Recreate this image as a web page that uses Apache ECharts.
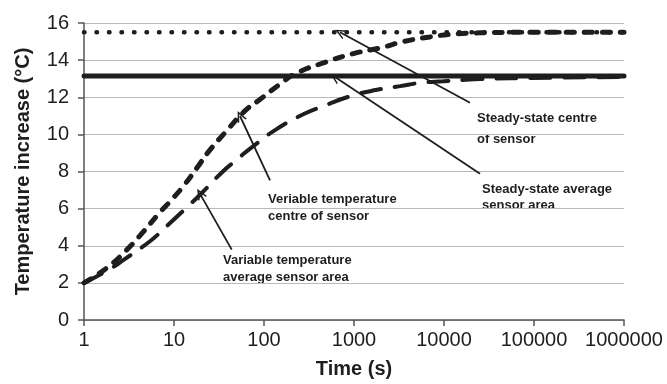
<!DOCTYPE html>
<html lang="en">
    <head>
        <meta charset="UTF-8" />
        <title>Temperature increase</title>
        <script src="https://cdn.jsdelivr.net/npm/echarts@6.0.0/dist/echarts.min.js"></script>
        <style>
            html, body { margin: 0; padding: 0; background: #fff; }
            #chart { width: 667px; height: 384px; }
        </style>
    </head>
    <body>
        <div id="chart"></div>
        <script>
            // time axis ticks (s), log scale
            const timeTicks = [1, 10, 100, 1000, 10000, 100000, 1000000];

            // steady-state levels (C)
            const steadyCentre = 15.5;
            const steadyAverage = 13.15;

            // variable temperature, centre of sensor
            const centreTime = [1, 1.8, 3.0, 4.6, 6.8, 9.5, 12.9, 18.2, 24.5, 37, 61, 90, 150, 220, 456, 984, 2120, 3530, 7000, 12600, 25000, 100000, 1000000];
            const centreTemp = [2.0, 2.81, 3.79, 4.77, 5.74, 6.5, 7.25, 8.23, 9.1, 10.1, 11.25, 11.88, 12.7, 13.25, 13.85, 14.35, 14.7, 15.0, 15.25, 15.4, 15.47, 15.5, 15.5];

            // variable temperature, average sensor area
            const averageTime = [1, 1.9, 2.78, 5.5, 7.7, 14.1, 20, 34, 51, 73, 138, 273, 456, 900, 1800, 3250, 5400, 9800, 25000, 83000, 1000000];
            const averageTemp = [2.0, 2.72, 3.25, 4.27, 4.91, 6.1, 6.8, 7.95, 8.68, 9.3, 10.28, 11.08, 11.52, 12.05, 12.4, 12.6, 12.77, 12.86, 12.98, 13.03, 13.1];

            // annotation arrows: [from, to] in data coordinates
            const arrows = [
                [[19450, 11.7], [699, 15.5]],
                [[25120, 7.88], [615, 13.09]],
                [[116.6, 7.52], [54.1, 10.99]],
                [[43.8, 3.79], [19.4, 6.81]],
            ];

            const pair = (xs, ys) => xs.map((x, i) => [x, ys[i]]);
            const font = "Liberation Sans, Arial, sans-serif";
            const ink = "#1e1e1e";
            // open V arrow head, pointing up
            const vHead = "path://M5,0 L10,10 L8.4,10 L5,3.2 L1.6,10 L0,10 Z";

            const note = (text, left, top, lineHeight) => ({
                type: "text",
                left,
                top,
                style: {
                    text,
                    font: "bold 13px " + font,
                    fill: ink,
                    lineHeight,
                },
            });

            const chart = echarts.init(document.getElementById("chart"));
            chart.setOption({
                animation: false,
                grid: { left: 84, right: 43, top: 23, bottom: 61 },
                xAxis: {
                    type: "log",
                    logBase: 10,
                    min: timeTicks[0],
                    max: timeTicks[timeTicks.length - 1],
                    name: "Time (s)",
                    nameLocation: "middle",
                    nameGap: 39,
                    nameTextStyle: { fontFamily: font, fontWeight: "bold", fontSize: 20, color: ink },
                    axisLine: { lineStyle: { color: "#555", width: 1.5 } },
                    axisTick: { show: true, length: 6, lineStyle: { color: "#555", width: 1.5 } },
                    minorTick: { show: false },
                    splitLine: { show: false },
                    axisLabel: {
                        fontFamily: font,
                        fontSize: 20,
                        color: ink,
                        margin: 10,
                        formatter: (v) => String(Math.round(v)),
                    },
                },
                yAxis: {
                    type: "value",
                    min: 0,
                    max: 16,
                    interval: 2,
                    name: "Temperature increase (°C)",
                    nameLocation: "middle",
                    nameRotate: 90,
                    nameGap: 51,
                    nameTextStyle: { fontFamily: font, fontWeight: "bold", fontSize: 20, color: ink },
                    axisLine: { show: true, lineStyle: { color: "#555", width: 1.5 } },
                    axisTick: { show: true, length: 6, lineStyle: { color: "#555", width: 1.5 } },
                    splitLine: { lineStyle: { color: "#b9b9b9", width: 1 } },
                    axisLabel: { fontFamily: font, fontSize: 20, color: ink, margin: 15 },
                },
                series: [
                    {
                        name: "Steady-state centre of sensor",
                        type: "line",
                        data: pair([timeTicks[0], timeTicks[6]], [steadyCentre, steadyCentre]),
                        showSymbol: false,
                        silent: true,
                        lineStyle: { color: ink, width: 4.5, type: [0.5, 12], cap: "round" },
                    },
                    {
                        name: "Steady-state average sensor area",
                        type: "line",
                        data: pair([timeTicks[0], timeTicks[6]], [steadyAverage, steadyAverage]),
                        showSymbol: false,
                        silent: true,
                        lineStyle: { color: ink, width: 5, cap: "round" },
                        markLine: {
                            silent: true,
                            symbol: ["none", vHead],
                            symbolSize: [10, 11],
                            label: { show: false },
                            lineStyle: { color: ink, width: 1.8, type: "solid" },
                            data: arrows.map(([a, b]) => [{ coord: a }, { coord: b }]),
                        },
                    },
                    {
                        name: "Variable temperature centre of sensor",
                        type: "line",
                        data: pair(centreTime, centreTemp),
                        smooth: true,
                        showSymbol: false,
                        silent: true,
                        lineStyle: { color: ink, width: 5, type: [8, 10], cap: "round" },
                    },
                    {
                        name: "Variable temperature average sensor area",
                        type: "line",
                        data: pair(averageTime, averageTemp),
                        smooth: true,
                        showSymbol: false,
                        silent: true,
                        lineStyle: { color: ink, width: 4, type: [20, 14], cap: "round" },
                    },
                ],
                graphic: [
                    note("Steady-state centre\nof sensor", 477, 108, 21),
                    note("Steady-state average\nsensor area", 482, 181, 16),
                    note("Veriable temperature\ncentre of sensor", 268, 191, 17),
                    note("Variable temperature\naverage sensor area", 223, 252, 17),
                ],
            });
        </script>
    </body>
</html>
